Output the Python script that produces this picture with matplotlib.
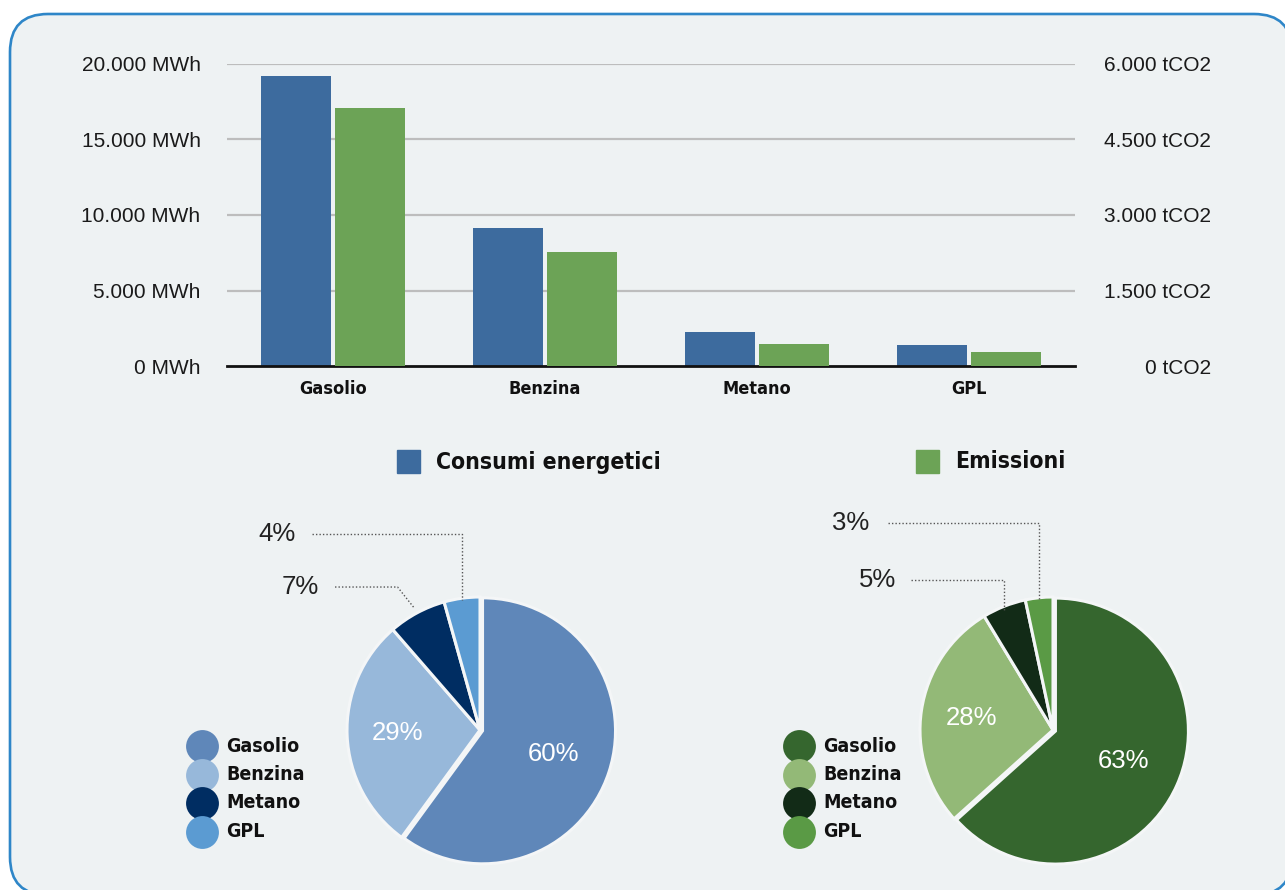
import numpy as np
import matplotlib
matplotlib.use("Agg")
import matplotlib.pyplot as plt
from matplotlib.patches import FancyBboxPatch, Rectangle

# fuel categories and values
fuels = ["Gasolio", "Benzina", "Metano", "GPL"]
consumi_mwh = [19200, 9140, 2250, 1390]
emissioni_tco2 = [5126, 2265, 430, 270]
mwh_ticks = [0, 5000, 10000, 15000, 20000]
mwh_labels = ["0 MWh", "5.000 MWh", "10.000 MWh", "15.000 MWh", "20.000 MWh"]
co2_ticks = [0, 1500, 3000, 4500, 6000]
co2_labels = ["0 tCO2", "1.500 tCO2", "3.000 tCO2", "4.500 tCO2", "6.000 tCO2"]

col_cons = "#3d6b9e"
col_emis = "#6ca356"
pie_cols_cons = ["#5f87b9", "#97b8da", "#002d62", "#5b9bd2"]
pie_cols_emis = ["#35662e", "#93b977", "#122b17", "#5a9a45"]
bg = "#eef2f3"
plain = ["Liberation Sans", "DejaVu Sans"]
narrow = dict(fontfamily="DejaVu Sans", fontstretch="condensed", fontweight="bold")

W, H = 1285, 890
fig = plt.figure(figsize=(W / 100, H / 100), dpi=100)
fig.patch.set_facecolor("white")

# background panel in pixel coordinates
back = fig.add_axes([0, 0, 1, 1])
back.set_xlim(0, W)
back.set_ylim(H, 0)
back.axis("off")
back.add_patch(FancyBboxPatch((10, 14), 1282, 881,
                              boxstyle="round,pad=0,rounding_size=38",
                              facecolor=bg, edgecolor="#2e86c8", lw=1.9))


def px_axes(x0, y0, x1, y1):
    return fig.add_axes([x0 / W, 1 - y1 / H, (x1 - x0) / W, (y1 - y0) / H])


# bar chart with two y axes
ax = px_axes(227, 64, 1075, 366)
ax2 = ax.twinx()
x = np.arange(len(fuels))
ax.bar(x - 0.175, consumi_mwh, width=0.33, color=col_cons, zorder=3)
ax2.bar(x + 0.175, emissioni_tco2, width=0.33, color=col_emis, zorder=3)
ax.set_xlim(-0.5, 3.5)
ax.set_ylim(0, 20000)
ax2.set_ylim(0, 6000)
ax.set_facecolor("none")
for a in (ax, ax2):
    for s in a.spines.values():
        s.set_visible(False)
ax.set_yticks(mwh_ticks)
ax.set_yticklabels(mwh_labels, fontfamily=plain, fontsize=15, color="#1a1a1a")
ax.tick_params(axis="y", length=0, pad=19)
ax2.set_yticks(co2_ticks)
ax2.set_yticklabels(co2_labels, fontfamily=plain, fontsize=15,
                    color="#1a1a1a", ha="right")
ax2.tick_params(axis="y", length=0, pad=98)
ax.set_xticks(x)
ax.set_xticklabels(fuels, fontsize=13, color="#111111", **narrow)
ax.tick_params(axis="x", length=0, pad=10)
for t in mwh_ticks[1:]:
    ax.axhline(t, color="#bdbdbd", lw=1.6, zorder=1)
ax.axhline(0, color="#111111", lw=2, zorder=4, clip_on=False)

# bar legend
for (lx, label, c) in [(397, "Consumi energetici", col_cons), (916, "Emissioni", col_emis)]:
    back.add_patch(Rectangle((lx, 450), 23, 23, color=c))
    back.text(lx + 39, 462, label, fontsize=16.5, va="center", ha="left",
              color="#111111", **narrow)


def draw_pie(cx, cy, values, colors, callouts, legend_x):
    r = 133
    pa = px_axes(cx - r, cy - r, cx + r, cy + r)
    vals = np.array(values, dtype=float)
    pct = vals / vals.sum() * 100
    wedges, _ = pa.pie(vals, colors=colors, startangle=90, counterclock=False,
                       explode=[0.02, 0, 0, 0], radius=1,
                       wedgeprops=dict(edgecolor="#f4f6f7", linewidth=2.2))
    pa.set_xlim(-1, 1)
    pa.set_ylim(-1, 1)
    pa.axis("off")
    for w in wedges:
        w.set_clip_on(False)
    mids = [np.deg2rad((w.theta1 + w.theta2) / 2) for w in wedges]
    # inner labels for the two large slices
    for i in (0, 1):
        d = 0.58 if i == 0 else 0.62
        pa.text(d * np.cos(mids[i]), d * np.sin(mids[i]), f"{pct[i]:.0f}%",
                color="white", fontsize=18.5, fontfamily=plain,
                ha="center", va="center")
    # callouts with dotted leaders for the small slices
    for i, (ly, lx_text, lx_line, elbow_x, end_r) in callouts.items():
        mx, my = np.cos(mids[i]), np.sin(mids[i])
        if elbow_x is None:
            xs = [lx_line, mx, mx]
        else:
            xs = [lx_line, elbow_x, mx * end_r]
        ys = [ly, ly, my * end_r]
        pa.plot(xs, ys, color="#555555", lw=1, ls=(0, (1, 1.5)), clip_on=False)
        pa.text(lx_text, ly, f"{pct[i]:.0f}%", fontsize=18.5, fontfamily=plain,
                color="#222222", ha="center", va="center", clip_on=False)
    # legend
    for k, (name, c) in enumerate(zip(fuels, colors)):
        yy = 746 + k * 28.5
        back.scatter([legend_x], [yy], s=560, color=c, linewidths=0)
        back.text(legend_x + 24, yy, name, fontsize=14, va="center", ha="left",
                  color="#111111", **narrow)


# callouts: index -> (label y, label x, leader start x, elbow x, end radius)
draw_pie(480, 730, consumi_mwh, pie_cols_cons,
         {3: (1.47, -1.53, -1.26, None, 0.99),
          2: (1.075, -1.35, -1.09, -0.62, 1.04)}, 202)
draw_pie(1053, 730, emissioni_tco2, pie_cols_emis,
         {3: (1.556, -1.52, -1.24, None, 0.99),
          2: (1.128, -1.32, -1.07, None, 0.97)}, 799)

fig.savefig("out.png", dpi=100, facecolor=fig.get_facecolor())
